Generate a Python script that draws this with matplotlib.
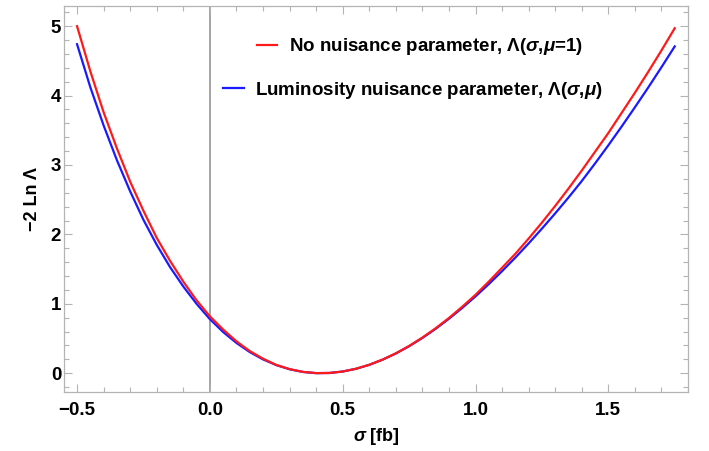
import numpy as np
import matplotlib
matplotlib.use('Agg')
import matplotlib.pyplot as plt
from matplotlib.ticker import MultipleLocator
from matplotlib.lines import Line2D

# values
sigma = [-0.50, -0.45, -0.40, -0.35, -0.30, -0.25, -0.20, -0.15, -0.10, -0.05,
         0.00, 0.05, 0.10, 0.15, 0.20, 0.25, 0.30, 0.35, 0.40, 0.45,
         0.50, 0.55, 0.60, 0.65, 0.70, 0.75, 0.80, 0.85, 0.90, 0.95,
         1.00, 1.05, 1.10, 1.15, 1.20, 1.25, 1.30, 1.35, 1.40, 1.45,
         1.50, 1.55, 1.60, 1.65, 1.70, 1.75]

no_nuisance = [5.00, 4.35, 3.76, 3.24, 2.76, 2.34, 1.95, 1.62, 1.32, 1.05,
               0.82, 0.63, 0.46, 0.32, 0.21, 0.12, 0.06, 0.02, 0.002, 0.004,
               0.025, 0.065, 0.122, 0.197, 0.287, 0.393, 0.514, 0.648, 0.796, 0.958,
               1.13, 1.32, 1.52, 1.72, 1.94, 2.17, 2.41, 2.66, 2.92, 3.19,
               3.46, 3.75, 4.04, 4.34, 4.65, 4.97]

lumi_nuisance = [4.74, 4.12, 3.57, 3.07, 2.62, 2.21, 1.85, 1.53, 1.25, 1.00,
                 0.78, 0.594, 0.437, 0.306, 0.200, 0.118, 0.058, 0.019, 0.002, 0.004,
                 0.025, 0.064, 0.121, 0.195, 0.284, 0.389, 0.508, 0.640, 0.785, 0.941,
                 1.107, 1.284, 1.471, 1.666, 1.870, 2.083, 2.303, 2.531, 2.769, 3.022,
                 3.283, 3.553, 3.831, 4.115, 4.408, 4.708]

plt.rcParams['font.family'] = ['Liberation Sans', 'DejaVu Sans']
plt.rcParams['font.weight'] = 'bold'
plt.rcParams['mathtext.fontset'] = 'custom'
plt.rcParams['mathtext.rm'] = 'Liberation Sans:bold'
plt.rcParams['mathtext.it'] = 'Liberation Sans:italic:bold'
plt.rcParams['mathtext.bf'] = 'Liberation Sans:bold'

frame_col = '#b4b4b4'
red = '#ff1a1a'
blue = '#1a1aff'

fig = plt.figure(figsize=(7.09, 4.51), dpi=100)
ax = fig.add_axes([0.0903, 0.1308, 0.9704 - 0.0903, 0.9867 - 0.1308])

ax.axvline(0, color='#8c8c8c', lw=1.1, zorder=1)
ax.plot(sigma, lumi_nuisance, color=blue, lw=1.6, zorder=3)
ax.plot(sigma, no_nuisance, color=red, lw=1.6, zorder=4)

ax.set_xlim(-0.549, 1.80)
ax.set_ylim(-0.27, 5.29)

ax.xaxis.set_major_locator(MultipleLocator(0.5))
ax.xaxis.set_minor_locator(MultipleLocator(0.1))
ax.yaxis.set_major_locator(MultipleLocator(1))
ax.yaxis.set_minor_locator(MultipleLocator(0.2))
ax.xaxis.set_major_formatter(plt.FuncFormatter(lambda v, p: ('%.1f' % v).replace('-', '\u2212')))
ax.yaxis.set_major_formatter(plt.FuncFormatter(lambda v, p: '%d' % v))

for s in ax.spines.values():
    s.set_color(frame_col)
    s.set_linewidth(0.9)
ax.tick_params(which='both', direction='in', top=True, right=True, color=frame_col, width=0.8)
ax.tick_params(which='major', length=6, labelsize=13.5, labelcolor='black')
ax.tick_params(axis='x', which='major', pad=7)
ax.tick_params(axis='y', which='major', pad=2)
ax.tick_params(which='minor', length=3.5)
for lab in ax.get_xticklabels() + ax.get_yticklabels():
    lab.set_fontweight('bold')

ax.set_xlabel(r'$\sigma$ [fb]', fontsize=13, fontweight='bold', labelpad=5)
ax.set_ylabel('\u22122 Ln \u039b', fontsize=13, fontweight='bold', labelpad=7)

leg1 = ax.legend([Line2D([], [], color=red, lw=1.6)],
                 [r'No nuisance parameter, $\mathrm{\Lambda}$($\sigma$,$\mu$=1)'],
                 loc='center', bbox_to_anchor=(0.570, 0.894), frameon=False,
                 fontsize=13.5, handlelength=1.1, handletextpad=0.6)
ax.add_artist(leg1)
leg2 = ax.legend([Line2D([], [], color=blue, lw=1.6)],
                 [r'Luminosity nuisance parameter, $\mathrm{\Lambda}$($\sigma$,$\mu$)'],
                 loc='center', bbox_to_anchor=(0.559, 0.782), frameon=False,
                 fontsize=13.5, handlelength=1.1, handletextpad=0.6)

fig.savefig('out.png', dpi=100)
